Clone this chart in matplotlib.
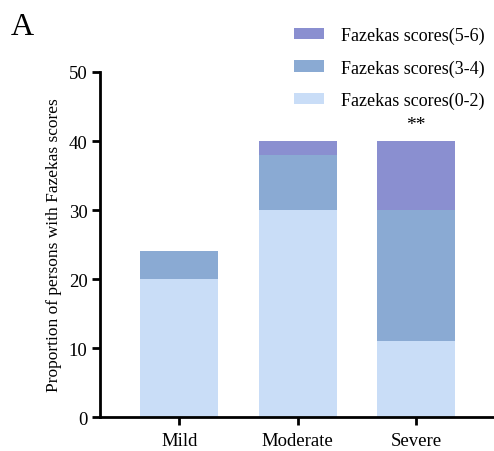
import matplotlib
matplotlib.use("Agg")
import matplotlib.pyplot as plt
import numpy as np

categories = ["Mild", "Moderate", "Severe"]
score_0_2 = [20, 30, 11]
score_3_4 = [4, 8, 19]
score_5_6 = [0, 2, 10]
series_labels = ["Fazekas scores(0-2)", "Fazekas scores(3-4)", "Fazekas scores(5-6)"]
colors = ["#c9ddf7", "#8aaad3", "#8a8fd0"]
yticks = [0, 10, 20, 30, 40, 50]

plt.rcParams['font.family'] = ['Liberation Serif', 'DejaVu Serif']

fig = plt.figure(figsize=(4.94, 4.52), dpi=100)
ax = fig.add_axes([0.2024, 0.0752, 0.7976, 0.7633])

x = np.arange(len(categories))
w = 0.66
b1 = ax.bar(x, score_0_2, w, color=colors[0], label=series_labels[0])
b2 = ax.bar(x, score_3_4, w, bottom=score_0_2, color=colors[1], label=series_labels[1])
bottom3 = [a + b for a, b in zip(score_0_2, score_3_4)]
b3 = ax.bar(x, score_5_6, w, bottom=bottom3, color=colors[2], label=series_labels[2])

ax.set_xlim(-0.67, 2.66)
ax.set_ylim(0, 50)
ax.set_yticks(yticks)
ax.set_xticks(x)
ax.set_xticklabels(categories)
for s in ["top", "right"]:
    ax.spines[s].set_visible(False)
for s in ["left", "bottom"]:
    ax.spines[s].set_linewidth(2.0)
ax.tick_params(axis='both', width=2.0, length=6, labelsize=13.5, colors='black')
ax.tick_params(axis='x', pad=5)
ax.tick_params(axis='y', pad=3)
ax.set_ylabel("Proportion of persons with Fazekas scores", fontsize=12.5, labelpad=5)

totals = [a + b for a, b in zip(bottom3, score_5_6)]
ax.text(x[2], totals[2] + 1.2, "**", ha='center', va='bottom', fontsize=14)

fig.text(0.022, 0.94, "A", fontsize=23, ha='left', va='center')

handles = [b3, b2, b1]
labels = [series_labels[2], series_labels[1], series_labels[0]]
fig.legend(handles, labels, loc='upper left', bbox_to_anchor=(0.562, 0.975),
           frameon=False, fontsize=13, handlelength=1.66, handleheight=0.6,
           labelspacing=0.85, handletextpad=0.95)

fig.savefig("out.png", dpi=100)
